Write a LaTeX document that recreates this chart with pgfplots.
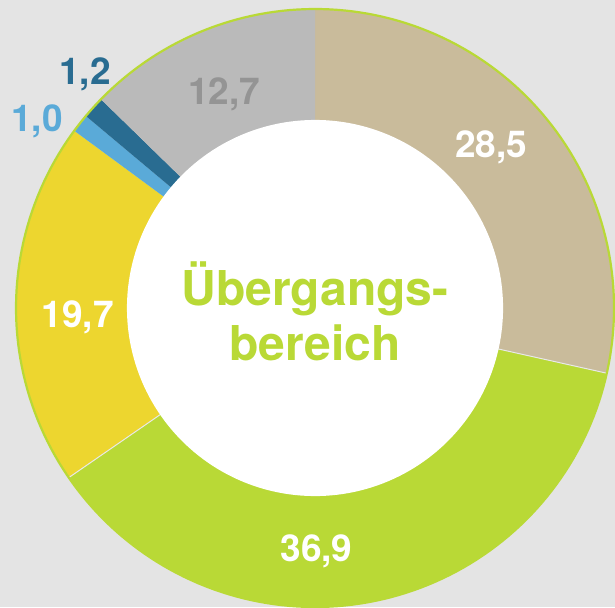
\documentclass[border=0pt]{standalone}
\usepackage{pgfplots}
\pgfplotsset{compat=1.18}
\usepackage{fontspec}
\setmainfont{TeX Gyre Heros}
\definecolor{bg}{RGB}{228,228,228}
\definecolor{ctan}{RGB}{201,187,155}
\definecolor{cgreen}{RGB}{185,217,54}
\definecolor{cyellow}{RGB}{237,214,47}
\definecolor{clblue}{RGB}{90,170,216}
\definecolor{cdblue}{RGB}{41,108,145}
\definecolor{cgray}{RGB}{186,186,186}
\definecolor{cgraytxt}{RGB}{148,148,148}
\definecolor{csep}{RGB}{232,232,232}
\newcommand\lbl{\fontsize{37bp}{40bp}\selectfont\bfseries}
\newcommand\ctr{\fontsize{48bp}{55bp}\selectfont\bfseries}
\begin{document}
\begin{tikzpicture}
% shares in percent, clockwise from 12 o'clock
\def\vA{28.5}\def\vB{36.9}\def\vC{19.7}\def\vD{1.0}\def\vE{1.2}\def\vF{12.7}
\pgfmathsetmacro\aA{90}
\pgfmathsetmacro\aB{\aA-3.6*\vA}
\pgfmathsetmacro\aC{\aB-3.6*\vB}
\pgfmathsetmacro\aD{\aC-3.6*\vC}
\pgfmathsetmacro\aE{\aD-3.6*\vD}
\pgfmathsetmacro\aF{\aE-3.6*\vE}
\pgfmathsetmacro\aG{\aF-3.6*\vF}
\def\ri{0.629}
\begin{axis}[
    x=299bp, y=299bp,
    xmin=-1.0535, xmax=1.0033, ymin=-1, ymax=1.0301,
    axis line style={draw=none}, ticks=none,
    axis background/.style={fill=bg},
    clip=true]
  \addplot[fill=ctan, draw=none, domain=\aB:\aA, samples=80, variable=\t] ({cos(t)},{sin(t)}) -- (axis cs:0,0) -- cycle;
  \addplot[fill=cgreen, draw=none, domain=\aC:\aB, samples=100, variable=\t] ({cos(t)},{sin(t)}) -- (axis cs:0,0) -- cycle;
  \addplot[fill=cyellow, draw=none, domain=\aD:\aC, samples=60, variable=\t] ({cos(t)},{sin(t)}) -- (axis cs:0,0) -- cycle;
  \addplot[fill=clblue, draw=none, domain=\aE:\aD, samples=10, variable=\t] ({cos(t)},{sin(t)}) -- (axis cs:0,0) -- cycle;
  \addplot[fill=cdblue, draw=none, domain=\aF:\aE, samples=10, variable=\t] ({cos(t)},{sin(t)}) -- (axis cs:0,0) -- cycle;
  \addplot[fill=cgray, draw=none, domain=\aG:\aF, samples=40, variable=\t] ({cos(t)},{sin(t)}) -- (axis cs:0,0) -- cycle;
  % thin separators
  \addplot[csep, line width=1bp, domain=0:1, samples=2, variable=\t] ({t*cos(\aB)},{t*sin(\aB)});
  \addplot[csep, line width=1bp, domain=0:1, samples=2, variable=\t] ({t*cos(\aC)},{t*sin(\aC)});
  % hole and rim
  \addplot[fill=white, draw=none, domain=0:360, samples=200, variable=\t] ({\ri*cos(t)},{\ri*sin(t)}) -- cycle;
  \addplot[cgreen, line width=2.2bp, domain=0:360, samples=240, variable=\t] ({cos(t)},{sin(t)});
  % labels
  \node[anchor=base, font=\lbl, text=white] at (axis cs:0.590,0.502) {28,5};
  \node[anchor=base, font=\lbl, text=white] at (axis cs:0.005,-0.849) {36,9};
  \node[anchor=base, font=\lbl, text=white] at (axis cs:-0.794,-0.064) {19,7};
  \node[anchor=base, font=\lbl, text=clblue] at (axis cs:-0.930,0.589) {1,0};
  \node[anchor=base, font=\lbl, text=cdblue] at (axis cs:-0.769,0.746) {1,2};
  \node[anchor=base, font=\lbl, text=cgraytxt] at (axis cs:-0.304,0.679) {12,7};
  \node[anchor=base, font=\ctr, text=cgreen] at (axis cs:0,0.010) {Übergangs-};
  \node[anchor=base, font=\ctr, text=cgreen] at (axis cs:0,-0.174) {bereich};
\end{axis}
\end{tikzpicture}
\end{document}
